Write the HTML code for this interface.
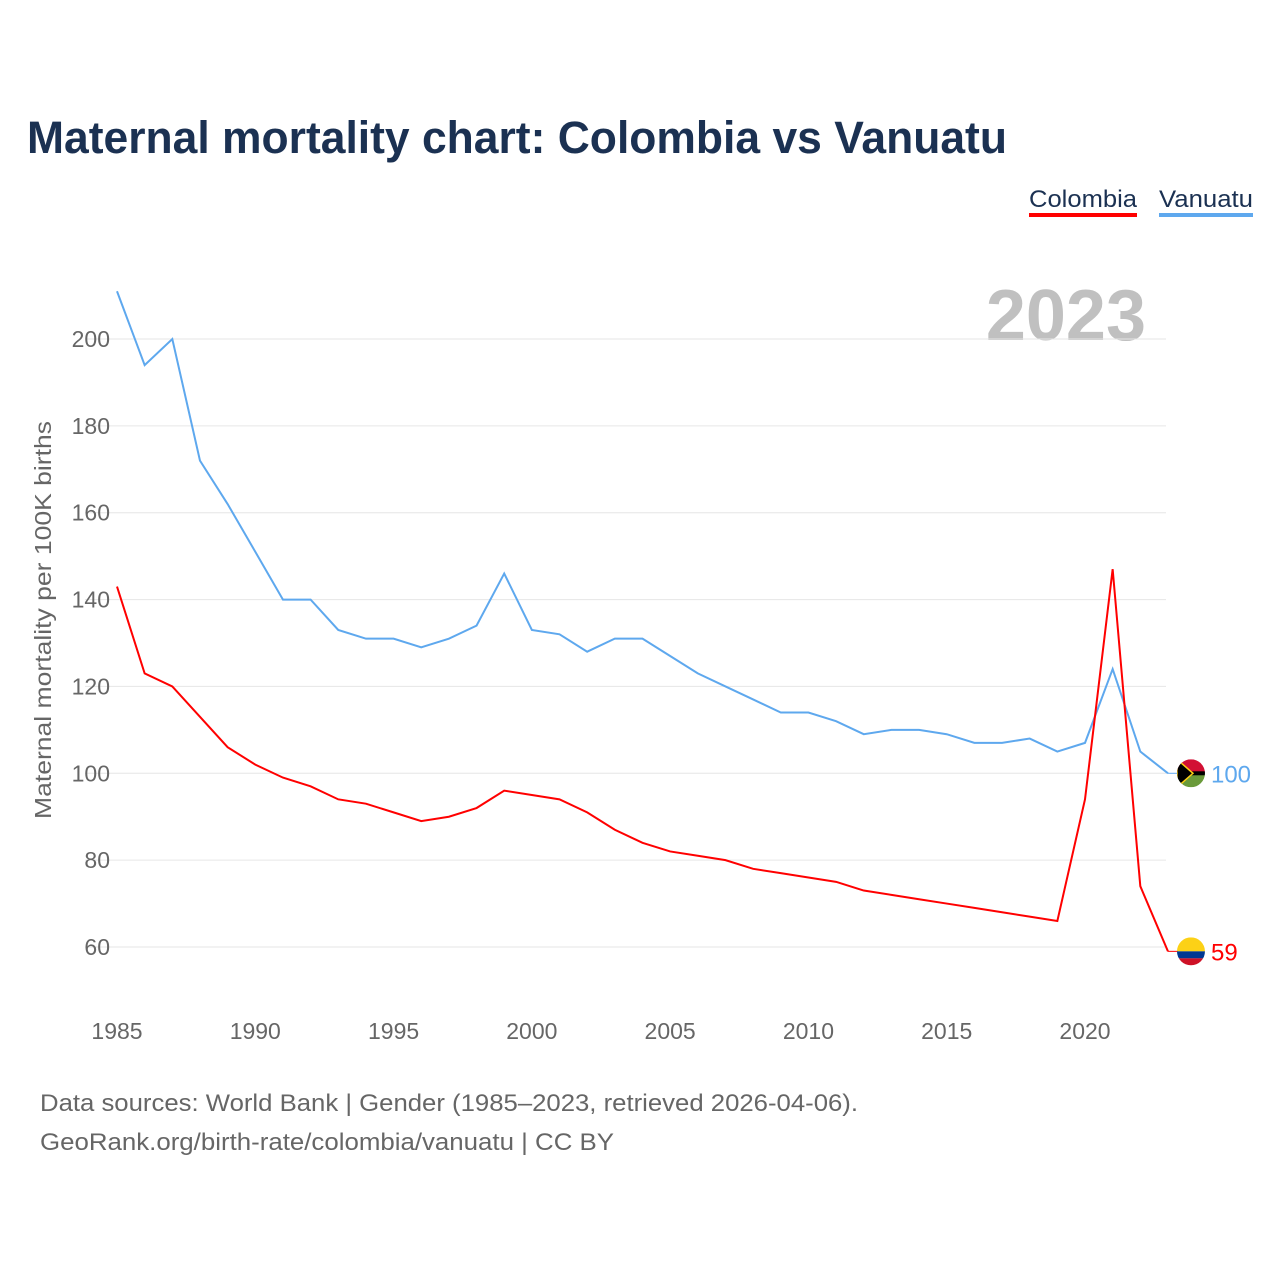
<!DOCTYPE html>
<html><head><meta charset="utf-8">
<style>
body{margin:0;background:#fff;font-family:"Liberation Sans",sans-serif;}
svg text{font-family:"Liberation Sans",sans-serif;}
</style></head>
<body>
<svg id="chart" width="1280" height="1280" xmlns="http://www.w3.org/2000/svg">
<text x="27" y="153" font-size="45" font-weight="bold" fill="#1b3152" textLength="980" lengthAdjust="spacingAndGlyphs">Maternal mortality chart: Colombia vs Vanuatu</text>
<g>
<text x="1029" y="207" font-size="24" fill="#1b3152" textLength="108" lengthAdjust="spacingAndGlyphs">Colombia</text>
<rect x="1029" y="213" width="108" height="4" fill="#ff0000"/>
<text x="1159" y="207" font-size="24" fill="#1b3152" textLength="94" lengthAdjust="spacingAndGlyphs">Vanuatu</text>
<rect x="1159" y="213" width="94" height="4" fill="#5ea8ee"/>
</g>
<text x="1146" y="340" font-size="72" font-weight="bold" fill="#c0c0c0" text-anchor="end">2023</text>
<g id="grid"></g>
<g id="lines"></g>
<text transform="translate(51,620) rotate(-90)" font-size="23" fill="#666" text-anchor="middle" textLength="398" lengthAdjust="spacingAndGlyphs">Maternal mortality per 100K births</text>
<text x="40" y="1111" font-size="24" fill="#666" textLength="818" lengthAdjust="spacingAndGlyphs">Data sources: World Bank | Gender (1985–2023, retrieved 2026-04-06).</text>
<text x="40" y="1150" font-size="24" fill="#666" textLength="574" lengthAdjust="spacingAndGlyphs">GeoRank.org/birth-rate/colombia/vanuatu | CC BY</text>
</svg>
<script>
const years=[];for(let y=1985;y<=2023;y++)years.push(y);
const colombia=[143,123,120,113,106,102,99,97,94,93,91,89,90,92,96,95,94,91,87,84,82,81,80,78,77,76,75,73,72,71,70,69,68,67,66,94,147,74,59];
const vanuatu=[211,194,200,172,162,151,140,140,133,131,131,129,131,134,146,133,132,128,131,131,127,123,120,117,114,114,112,109,110,110,109,107,107,108,105,107,124,105,100];
const yTicks=[60,80,100,120,140,160,180,200];
const xTicks=[1985,1990,1995,2000,2005,2010,2015,2020];
const NS="http://www.w3.org/2000/svg";
const xS=v=>117+(v-1985)*(1085-117)/35;
const yS=v=>947-(v-60)*(608/140);
const grid=document.getElementById('grid'),lines=document.getElementById('lines');
function mk(tag,attrs,parent){const e=document.createElementNS(NS,tag);for(const k in attrs)e.setAttribute(k,attrs[k]);parent.appendChild(e);return e;}
yTicks.forEach(t=>{
 const l=mk('line',{x1:85,x2:1166,y1:yS(t),y2:yS(t),stroke:'#e6e6e6','stroke-width':1},grid);
 
 
 const tx=mk('text',{x:110,y:yS(t)+8,'font-size':23,fill:'#666','text-anchor':'end'},grid);
 tx.textContent=t;
 
 
});
xTicks.forEach(t=>{
 const tx=mk('text',{x:xS(t),y:1039,'font-size':23,fill:'#666','text-anchor':'middle'},grid);
 tx.textContent=t;
 
 
});
function series(vals,color,name){
 const p=mk('polyline',{points:vals.map((v,i)=>xS(years[i])+','+yS(v)).join(' '),fill:'none',stroke:color,'stroke-width':2},lines);
 
 
 const last=vals[vals.length-1],y=yS(last),x=xS(2023);
 mk('line',{x1:x,x2:x+10,y1:y,y2:y,stroke:color,'stroke-width':1},lines);
 const tx=mk('text',{x:x+43,y:y+9,'font-size':24,fill:color},lines);
 tx.textContent=last;
 
 
 return {x:x+23,y};
}
const v=series(vanuatu,'#5ea8ee','vanuatu');
const c=series(colombia,'#ff0000','colombia');
const fc=mk('g',{},lines);


const cc=mk('clipPath',{id:'cc'},fc);mk('circle',{cx:c.x,cy:c.y,r:14},cc);
mk('rect',{x:c.x-14,y:c.y-14,width:28,height:14,fill:'#fcd116','clip-path':'url(#cc)'},fc);
mk('rect',{x:c.x-14,y:c.y,width:28,height:7,fill:'#003893','clip-path':'url(#cc)'},fc);
mk('rect',{x:c.x-14,y:c.y+7,width:28,height:7,fill:'#ce1126','clip-path':'url(#cc)'},fc);
const fv=mk('g',{},lines);


const cp=mk('clipPath',{id:'vc'},fv);mk('circle',{cx:v.x,cy:v.y,r:14},cp);
mk('rect',{x:v.x-14,y:v.y-14,width:28,height:14,fill:'#d21034','clip-path':'url(#vc)'},fv);
mk('rect',{x:v.x-14,y:v.y,width:28,height:14,fill:'#6a9a3a','clip-path':'url(#vc)'},fv);
mk('rect',{x:v.x-14,y:v.y-2,width:28,height:4,fill:'#000','clip-path':'url(#vc)'},fv);
mk('polygon',{points:(v.x-14)+','+(v.y-14)+' '+(v.x+2)+','+v.y+' '+(v.x-14)+','+(v.y+14),fill:'#000',stroke:'#fdce12','stroke-width':1.5,'clip-path':'url(#vc)'},fv);
</script>
</body></html>
